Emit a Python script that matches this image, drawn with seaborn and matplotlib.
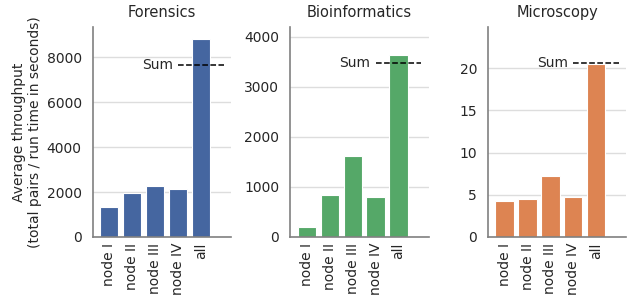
import matplotlib
matplotlib.use("Agg")
import matplotlib.pyplot as plt
import numpy as np
import pandas as pd
import seaborn as sns

nodes = ["node I", "node II", "node III", "node IV", "all"]
titles = ["Forensics", "Bioinformatics", "Microscopy"]
forensics = [1320, 1940, 2280, 2130, 8830]
bioinformatics = [205, 840, 1620, 805, 3640]
microscopy = [4.26, 4.46, 7.22, 4.70, 20.55]
ylims = [9350, 4190, 24.9]

sns.set_theme(style="whitegrid")
plt.rcParams['font.family'] = ['DejaVu Sans']
palette = sns.color_palette("deep")
colors = ["#4566a0", palette[2], palette[1]]

fig, axes = plt.subplots(1, 3, figsize=(6.27, 3.0), dpi=100)
fig.subplots_adjust(left=0.148, right=0.999, top=0.91, bottom=0.21, wspace=0.43)

for ax, title, values, col, top in zip(axes, titles, [forensics, bioinformatics, microscopy], colors, ylims):
    df = pd.DataFrame({"node": nodes, "throughput": values})
    sns.barplot(data=df, x="node", y="throughput", color=col, saturation=1, ax=ax,
                width=0.8, edgecolor="white", linewidth=0.8)
    total = sum(values[:4])
    ax.plot([3, 5], [total, total], color="black", linestyle="--", linewidth=1.1)
    ax.text(2.78, total, "Sum", ha="right", va="center", fontsize=10, color="#262626")
    ax.set_xlim(-0.72, 5.32)
    ax.set_ylim(0, top)
    ax.set_title(title, fontsize=10.5, pad=7)
    ax.set_xlabel("")
    ax.set_ylabel("")
    ax.tick_params(axis="x", rotation=90, labelsize=10, length=0, pad=4)
    ax.tick_params(axis="y", labelsize=10, length=0, pad=8)
    ax.grid(axis="x", visible=False)
    ax.grid(axis="y", color="#dddddd")
    sns.despine(ax=ax)
    for s in ["left", "bottom"]:
        ax.spines[s].set_color("#808080")
        ax.spines[s].set_linewidth(1.2)

axes[0].set_ylabel("Average throughput\n(total pairs / run time in seconds)", fontsize=10, labelpad=3)

fig.savefig("out.png", dpi=100)
